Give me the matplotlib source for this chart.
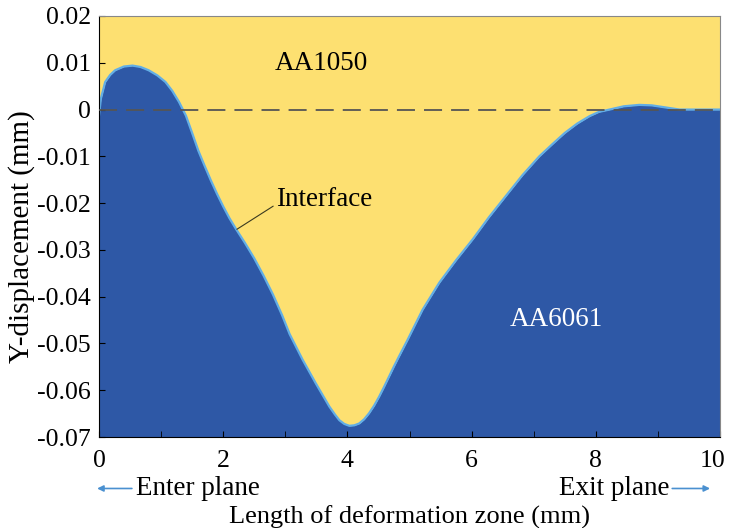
import matplotlib
matplotlib.use('Agg')
import matplotlib.pyplot as plt
from matplotlib.transforms import ScaledTranslation

# interface position
x_pos = [0.00, 0.03, 0.10, 0.18, 0.26, 0.40, 0.54, 0.67, 0.80, 0.94,
         1.07, 1.18, 1.29, 1.40, 1.50, 1.60, 1.70, 1.80, 1.90, 2.00,
         2.10, 2.20, 2.35, 2.50, 2.65, 2.80, 2.95, 3.07, 3.28, 3.49,
         3.71, 3.80, 3.87, 3.95, 4.03, 4.11, 4.19, 4.27, 4.35, 4.43,
         4.51, 4.59, 4.67, 4.75, 4.83, 4.97, 5.21, 5.48, 5.75, 6.02,
         6.28, 6.55, 6.82, 7.09, 7.30, 7.50, 7.70, 7.90, 8.05, 8.22,
         8.45, 8.70, 8.90, 9.10, 9.35, 10.0]
y_disp = [-0.0013, 0.0023, 0.0059, 0.0074, 0.0084, 0.0092, 0.0094, 0.0091, 0.0084, 0.0073,
          0.0059, 0.0040, 0.0016, -0.0013, -0.0050, -0.0088, -0.0120, -0.0151, -0.0180, -0.0207,
          -0.0232, -0.0254, -0.0285, -0.0318, -0.0355, -0.0395, -0.0440, -0.0480, -0.0535, -0.0585,
          -0.0635, -0.0652, -0.0664, -0.0672, -0.0676, -0.0675, -0.0671, -0.0662, -0.0649, -0.0633,
          -0.0614, -0.0593, -0.0571, -0.0549, -0.0528, -0.0492, -0.0428, -0.0370, -0.0322, -0.0277,
          -0.0230, -0.0185, -0.0140, -0.0100, -0.0074, -0.0050, -0.0030, -0.0014, -0.0005, 0.0000,
          0.0007, 0.0010, 0.0009, 0.0005, 0.0000, 0.0]

x_ticks = [0, 2, 4, 6, 8, 10]
y_ticks = [0.02, 0.01, 0, -0.01, -0.02, -0.03, -0.04, -0.05, -0.06, -0.07]
y_labels = ['0.02', '0.01', '0', '-0.01', '-0.02', '-0.03', '-0.04', '-0.05', '-0.06', '-0.07']

yellow = '#FDE071'
blue = '#2E58A6'
edge = '#62AEE6'
arrow_c = '#4A90D0'

plt.rcParams['font.family'] = ['Liberation Serif', 'DejaVu Serif']

fig = plt.figure(figsize=(7.31, 5.28), dpi=100)
ax = fig.add_axes([0.1354, 0.1723, 0.8496, 0.7974])

ax.fill_between(x_pos, y_disp, 0.02, color=yellow, lw=0)
ax.fill_between(x_pos, -0.07, y_disp, color=blue, lw=0)
ax.plot(x_pos, y_disp, color=edge, lw=1.6)
ax.axhline(0, color='#555555', lw=1.3, dashes=(10, 5), zorder=3)

ax.set_xlim(0, 10)
ax.set_ylim(-0.07, 0.02)
ax.set_xticks(x_ticks)
ax.set_xticks(range(11), minor=True)
ax.set_yticks(y_ticks)
ax.set_yticklabels(y_labels)
ax.tick_params(direction='in', length=4, labelsize=18.5)
ax.tick_params(axis='x', pad=9)
ax.tick_params(axis='y', pad=6)
ax.tick_params(which='minor', direction='in', length=4)
for s in ['top', 'right']:
    ax.spines[s].set_color('#888888')

# pull the last x label in a bit so it stays inside the figure
last = ax.get_xticklabels()[-1]
last.set_transform(last.get_transform() + ScaledTranslation(-0.07, 0, fig.dpi_scale_trans))

ax.set_ylabel('Y-displacement (mm)', fontsize=21)
ax.yaxis.set_label_coords(-0.103, 0.475)
ax.set_xlabel('Length of deformation zone (mm)', fontsize=19)
ax.xaxis.set_label_coords(0.5, -0.163)

ax.text(3.58, 0.0098, 'AA1050', fontsize=19.5, ha='center', va='center')
ax.text(7.37, -0.0449, 'AA6061', fontsize=19.5, ha='center', va='center', color='white')
ax.annotate('Interface', xy=(2.22, -0.0256), xytext=(2.85, -0.0192),
            fontsize=19.5, ha='left', va='center',
            arrowprops=dict(arrowstyle='-', color='#3a3a20', lw=0.8, shrinkA=0, shrinkB=0,
                            relpos=(0, 0.3)))

# enter / exit plane arrows under the axis
ax.annotate('', xy=(-0.03, -0.081), xytext=(0.53, -0.081),
            annotation_clip=False,
            arrowprops=dict(arrowstyle='-|>', color=arrow_c, lw=1.2, mutation_scale=9,
                            shrinkA=0, shrinkB=0))
ax.text(0.6, -0.081, 'Enter plane', fontsize=19.5, ha='left', va='center', clip_on=False)
ax.annotate('', xy=(9.84, -0.081), xytext=(9.23, -0.081),
            annotation_clip=False,
            arrowprops=dict(arrowstyle='-|>', color=arrow_c, lw=1.2, mutation_scale=9,
                            shrinkA=0, shrinkB=0))
ax.text(9.19, -0.081, 'Exit plane', fontsize=19.5, ha='right', va='center', clip_on=False)

fig.savefig('out.png', dpi=100)
